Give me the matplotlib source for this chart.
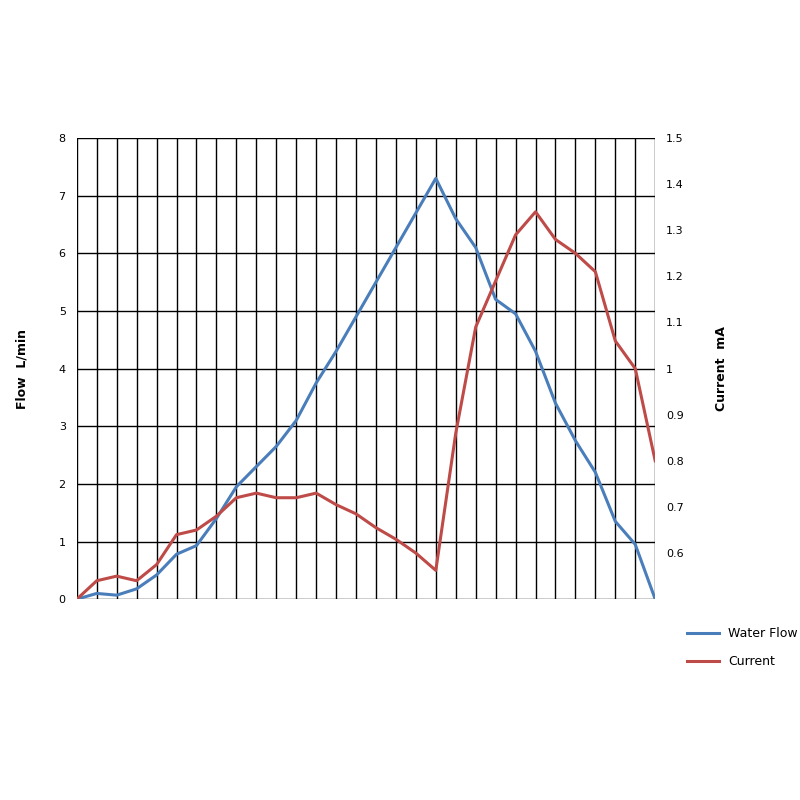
import numpy as np
import matplotlib.pyplot as plt

# x positions: one sample per vertical grid line
steps = list(range(30))
flow = [0, 0.1, 0.07, 0.18, 0.42, 0.78, 0.93, 1.4, 1.95, 2.3,
        2.65, 3.1, 3.75, 4.3, 4.9, 5.5, 6.1, 6.7, 7.3, 6.6,
        6.1, 5.2, 4.95, 4.3, 3.4, 2.75, 2.2, 1.35, 0.95, 0.0]
current = [0.5, 0.54, 0.55, 0.54, 0.575, 0.64, 0.65, 0.68, 0.72, 0.73,
           0.72, 0.72, 0.73, 0.705, 0.685, 0.655, 0.63, 0.60, 0.5625, 0.86,
           1.09, 1.19, 1.29, 1.34, 1.28, 1.25, 1.21, 1.06, 1.0, 0.80]

fig = plt.figure(figsize=(8, 8), dpi=100)
ax = fig.add_axes((0.096, 0.251, 0.723, 0.5765))
ax2 = ax.twinx()

l1, = ax.plot(steps, flow, color='#4a7ebb', lw=2.2, label='Water Flow')
l2, = ax2.plot(steps, current, color='#be4b48', lw=2.2, label='Current')

ax.set_xlim(0, 29)
ax.set_ylim(0, 8)
ax2.set_ylim(0.5, 1.5)
ax.set_xticks(steps)
ax.set_xticklabels([])
ax.set_yticks(range(9))
ax2.set_yticks([0.6, 0.7, 0.8, 0.9, 1, 1.1, 1.2, 1.3, 1.4, 1.5])
ax2.set_yticklabels(['0.6', '0.7', '0.8', '0.9', '1', '1.1', '1.2', '1.3', '1.4', '1.5'])
ax.grid(True, color='black', lw=1)
for a in (ax, ax2):
    a.tick_params(length=0, labelsize=8, pad=8)
    for s in a.spines.values():
        s.set_visible(False)

ax.set_ylabel('Flow  L/min', fontsize=9, fontweight='bold', labelpad=22)
ax2.set_ylabel('Current  mA', fontsize=9, fontweight='bold', labelpad=22)

fig.legend([l1, l2], ['Water Flow', 'Current'], loc='upper left',
           bbox_to_anchor=(0.845, 0.23), frameon=False, fontsize=9,
           handlelength=2.5, labelspacing=1.2)

fig.savefig('out.png')
